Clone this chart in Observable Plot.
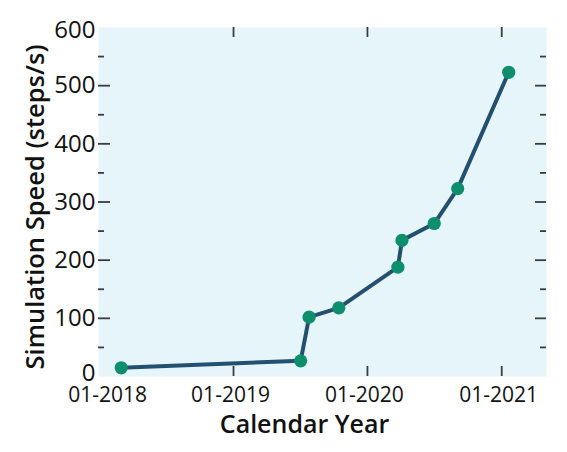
<!DOCTYPE html>
<html>
<head>
<meta charset="utf-8">
<script src="https://cdn.jsdelivr.net/npm/d3@7"></script>
<script src="https://cdn.jsdelivr.net/npm/@observablehq/plot@0.6"></script>
<style>
  html, body { margin: 0; padding: 0; background: #ffffff; }
  #chart { width: 567px; height: 452px; }
</style>
</head>
<body>
<div id="chart"></div>
<script>
// Data
const dates = ["2018-03-01", "2019-07-03", "2019-07-26", "2019-10-15", "2020-03-24", "2020-04-04", "2020-07-01", "2020-09-03", "2021-01-20"];
const speeds = [15, 27, 102, 118, 188, 234, 263, 323, 523];

const xFirstTickLabel = ["2018-01-01"];
const xTickLabels = ["2019-01-01", "2020-01-01", "2021-01-01"];
const xTickMarks = ["2019-01-01", "2020-01-01", "2021-01-01"];
const yBottomLabel = [0];
const yTickLabels = [100, 200, 300, 400, 500];
const yTopLabel = [600];
const yMajorMarks = [100, 200, 300, 400, 500];
const yMinorMarks = [50, 150, 250, 350, 450, 550];

const xLabel = "Calendar Year";
const yLabel = "Simulation Speed (steps/s)";

const parse = d3.utcParse("%Y-%m-%d");
const data = dates.map((d, i) => ({date: parse(d), speed: speeds[i]}));

const W = 567, H = 452;
const mL = 98, mR = 21, mT = 27, mB = 76;
const plotW = W - mL - mR, plotH = H - mT - mB;
const tickColor = "#3c3c3c";
const fmt = d3.utcFormat("%m-%Y");

const chart = Plot.plot({
  width: W,
  height: H,
  marginLeft: mL,
  marginRight: mR,
  marginTop: mT,
  marginBottom: mB,
  style: {fontFamily: "'Open Sans', sans-serif", color: "#111", background: "#ffffff"},
  x: {type: "utc", domain: [parse("2017-12-29"), parse("2021-05-03")]},
  y: {domain: [0, 600]},
  marks: [
    Plot.frame({fill: "#e6f5fa", stroke: "none"}),
    // inward tick marks
    Plot.tickY(yMajorMarks, {y: d => d, insetRight: plotW - 12, stroke: tickColor, strokeWidth: 1.8}),
    Plot.tickY(yMinorMarks, {y: d => d, insetRight: plotW - 6, stroke: tickColor, strokeWidth: 1.8}),
    Plot.tickY(yMajorMarks, {y: d => d, insetLeft: plotW - 11, stroke: tickColor, strokeWidth: 1.8}),
    Plot.tickY(yMinorMarks, {y: d => d, insetLeft: plotW - 6, stroke: tickColor, strokeWidth: 1.8}),
    Plot.tickX(xTickMarks.map(parse), {x: d => d, insetBottom: plotH - 10, stroke: tickColor, strokeWidth: 1.8}),
    Plot.tickX(xTickMarks.map(parse), {x: d => d, insetTop: plotH - 10, stroke: tickColor, strokeWidth: 1.8}),
    // axis labels
    Plot.axisY(yBottomLabel, {anchor: "left", tickSize: 0, tickPadding: 3, dy: -3, fontSize: 24, label: null, fill: "#111"}),
    Plot.axisY(yTickLabels, {anchor: "left", tickSize: 0, tickPadding: 3, fontSize: 24, label: null, fill: "#111"}),
    Plot.axisY(yTopLabel, {anchor: "left", tickSize: 0, tickPadding: 3, dy: 3, fontSize: 24, label: null, fill: "#111"}),
    Plot.axisX(xFirstTickLabel.map(parse), {anchor: "bottom", tickSize: 0, tickPadding: 11, dx: 8, fontSize: 21, label: null, tickFormat: fmt, fill: "#111"}),
    Plot.axisX(xTickLabels.map(parse), {anchor: "bottom", tickSize: 0, tickPadding: 11, dx: -3, fontSize: 21, label: null, tickFormat: fmt, fill: "#111"}),
    // data
    Plot.line(data, {x: "date", y: "speed", stroke: "#24506f", strokeWidth: 4}),
    Plot.dot(data, {x: "date", y: "speed", r: 6.6, fill: "#0d8f6e", stroke: "none"}),
    // titles
    Plot.text([xLabel], {text: d => d, frameAnchor: "bottom", textAnchor: "middle", lineAnchor: "middle", dx: -18, dy: 48, fontSize: 25, fontWeight: 600, fill: "#111"}),
    Plot.text([yLabel], {text: d => d, frameAnchor: "left", textAnchor: "middle", lineAnchor: "middle", rotate: -90, dx: -63, dy: 5, fontSize: 25.5, fontWeight: 600, fill: "#111"})
  ]
});

document.getElementById("chart").appendChild(chart);
</script>
</body>
</html>
